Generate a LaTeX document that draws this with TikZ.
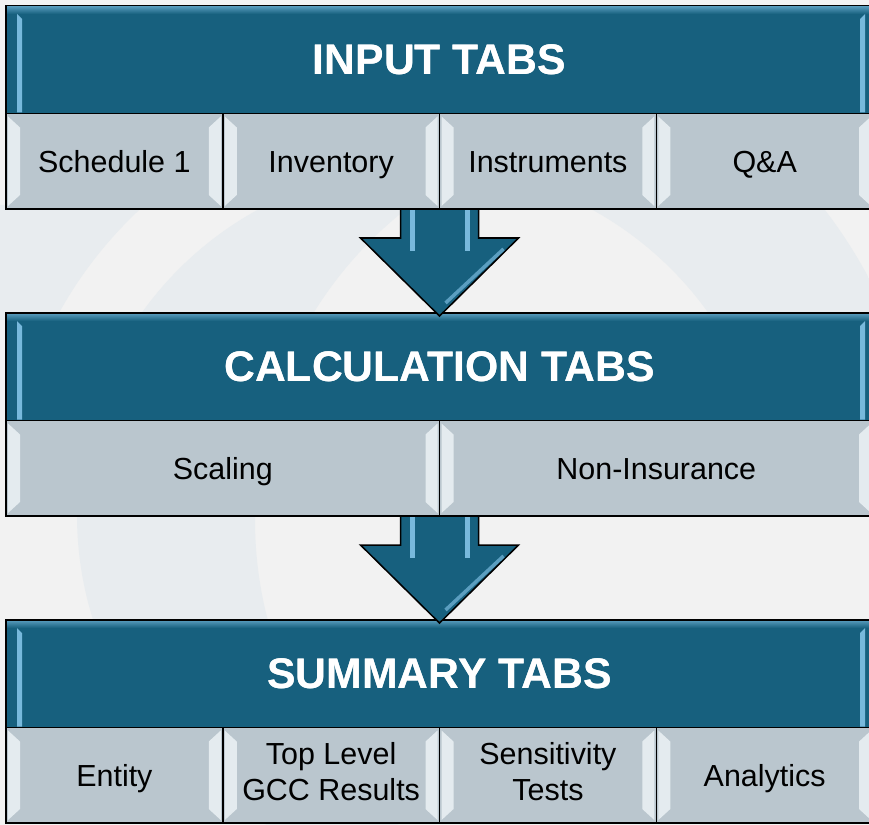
\documentclass[tikz,border=0pt]{standalone}
\usepackage{fontspec}
\setmainfont{Liberation Sans}
\usetikzlibrary{positioning,calc}

\definecolor{tabblue}{RGB}{23,96,126}
\definecolor{tabgray}{RGB}{186,198,206}
\definecolor{pagebg}{RGB}{242,242,242}
\definecolor{swirl}{RGB}{232,236,239}
\definecolor{shine}{RGB}{228,235,239}
\definecolor{glint}{RGB}{120,185,220}

% keeps the tab labels on one line height
\newcommand\tabstrut{\rule[-6.4pt]{0pt}{31.4pt}}

\tikzset{
  head/.style={draw=black,line width=1.3pt,fill=tabblue,text=white,inner sep=0pt,outer sep=0pt,
    minimum width=26.01cm,minimum height=3.225cm,font=\fontsize{36.5}{40}\selectfont\bfseries},
  tab/.style={draw=black,line width=1.3pt,fill=tabgray,inner sep=0pt,outer sep=0pt,align=center,
    minimum width=6.5025cm,minimum height=2.865cm,font=\fontsize{26}{30}\selectfont,
    execute at begin node=\tabstrut,execute at end node=\tabstrut},
  widetab/.style={tab,minimum width=13.005cm},
  arrowbody/.style={draw=black,line width=1.3pt,fill=tabblue,line join=miter}
}

% light bevel strips on the sides of a tab
\newcommand\tabshine[1]{%
  \fill[shine] ($(#1.north west)+(2,-3)$) -- ($(#1.north west)+(14,-14)$)
    -- ($(#1.south west)+(14,14)$) -- ($(#1.south west)+(2,3)$) -- cycle;
  \fill[shine] ($(#1.north east)+(-2,-3)$) -- ($(#1.north east)+(-14,-14)$)
    -- ($(#1.south east)+(-14,14)$) -- ($(#1.south east)+(-2,3)$) -- cycle;
}
% glassy edge of a header bar
\newcommand\headshine[1]{%
  \shade[top color=glint!60!tabblue,bottom color=tabblue] ($(#1.north west)+(1,-1)$) rectangle ($(#1.north east)+(-1,-8)$);
  \fill[glint] ($(#1.north west)+(11,-8)$) -- ($(#1.north west)+(16,-13)$)
    -- ($(#1.south west)+(16,1)$) -- ($(#1.south west)+(11,1)$) -- cycle;
  \fill[glint] ($(#1.north east)+(-8,-8)$) -- ($(#1.north east)+(-13,-13)$)
    -- ($(#1.south east)+(-13,1)$) -- ($(#1.south east)+(-8,1)$) -- cycle;
}
% block arrow from the bottom of one row down to the next header
\newcommand\flowarrow[2]{%
  \draw[arrowbody] ($(#1)+(-39,0)$) -- ($(#1)+(39,0)$) -- ($(#1)+(39,-29)$)
    -- ($(#1)+(79,-29)$) -- ($(#2)+(0,-3)$) -- ($(#1)+(-79,-29)$)
    -- ($(#1)+(-39,-29)$) -- cycle;
  \fill[glint] ($(#1)+(-30,-1)$) rectangle ($(#1)+(-25,-42)$);
  \fill[glint] ($(#1)+(25,-1)$) rectangle ($(#1)+(30,-42)$);
  \draw[glint!70!tabblue,line width=3pt] ($(#1)+(64,-40)$) -- ($(#2)+(6,10)$);
}

\begin{document}
\begin{tikzpicture}[x=0.03cm,y=0.03cm]
    \useasboundingbox (0,0) rectangle (869,825);
    \fill[pagebg] (0,0) rectangle (869,825);

    % faint rings behind
    \begin{scope}
        \clip (0,505) rectangle (425,620);
        \fill[swirl,even odd rule] (0,505) rectangle (425,620) (425,310) circle (418);
    \end{scope}
    \begin{scope}
        \clip (425,310) circle (348);
        \fill[swirl,even odd rule] (0,0) rectangle (869,825) (650,305) circle (395);
    \end{scope}
    \begin{scope}
        \clip (425,505) rectangle (869,620);
        \clip (425,310) circle (503);
        \fill[swirl,even odd rule] (425,505) rectangle (869,620) (425,310) circle (348);
    \end{scope}

    % Input row
    \node[head,anchor=north west] (inhead) at (6,819) {INPUT TABS};
    \node[tab,anchor=north west] (sched) at (inhead.south west) {Schedule 1};
    \node[tab,right=0pt of sched] (invent) {Inventory};
    \node[tab,right=0pt of invent] (instr) {Instruments};
    \node[tab,right=0pt of instr] (qa) {Q\&A};

    % Calculation row
    \node[head,below=3.12cm of sched.south west,anchor=north west] (calchead) {CALCULATION TABS};
    \node[widetab,anchor=north west] (scaling) at (calchead.south west) {Scaling};
    \node[widetab,right=0pt of scaling] (nonins) {Non-Insurance};

    % Summary row
    \node[head,below=3.12cm of scaling.south west,anchor=north west] (sumhead) {SUMMARY TABS};
    \node[tab,anchor=north west] (entity) at (sumhead.south west) {Entity};
    \node[tab,right=0pt of entity] (toplvl) {Top Level\\GCC Results};
    \node[tab,right=0pt of toplvl] (sens) {Sensitivity\\Tests};
    \node[tab,right=0pt of sens] (analyt) {Analytics};

    % Bevels
    \foreach \n in {inhead,calchead,sumhead} {\headshine{\n}}
    \foreach \n in {sched,invent,instr,qa,scaling,nonins,entity,toplvl,sens,analyt} {\tabshine{\n}}

    % Header text again on top of the bevels
    \node[head,draw=none,fill=none] at (inhead) {INPUT TABS};
    \node[head,draw=none,fill=none] at (calchead) {CALCULATION TABS};
    \node[head,draw=none,fill=none] at (sumhead) {SUMMARY TABS};

    % Arrows
    \flowarrow{invent.south east}{calchead.north}
    \flowarrow{scaling.south east}{sumhead.north}
\end{tikzpicture}
\end{document}
